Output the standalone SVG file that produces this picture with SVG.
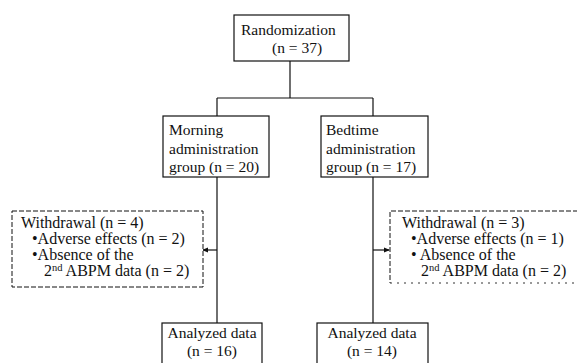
<svg xmlns="http://www.w3.org/2000/svg" width="577" height="363" viewBox="0 0 577 363">
<defs>
<marker id="ah" markerWidth="6" markerHeight="6" refX="5" refY="3" orient="auto" markerUnits="userSpaceOnUse">
<path d="M0,0.5 L6,3 L0,5.5 z" fill="#111"/>
</marker>
<style>
text{font-family:"Liberation Serif","Times New Roman",serif;font-size:15.5px;fill:#111}
.w{font-size:16px}
.box{fill:#fff;stroke:#111;stroke-width:1.2}
.dash{fill:#fff;stroke:#111;stroke-width:1;stroke-dasharray:5,2}
.dot{fill:none;stroke:#333;stroke-width:1;stroke-dasharray:2,5}
.ln{stroke:#111;stroke-width:1.2;fill:none}
.c{text-anchor:middle}
</style>
</defs>
<rect width="577" height="363" fill="#fff"/>
<g id="connectors">
<path class="ln" d="M290,61 V98 M217,98 H373 M217,98 V116 M373,98 V116 M217,177 V323 M373,177 V323"/>
<path class="ln" d="M217,250 H203" marker-end="url(#ah)"/>
<path class="ln" d="M373,250 H389" marker-end="url(#ah)"/>
</g>
<g id="randomization">
<rect class="box" x="234" y="15" width="115" height="46"/>
<text x="241" y="35">Randomization</text>
<text x="272" y="53">(n = 37)</text>
</g>
<g id="morning">
<rect class="box" x="163" y="116" width="106" height="61"/>
<text x="169" y="135">Morning</text>
<text x="169" y="154">administration</text>
<text x="169" y="172">group (n = 20)</text>
</g>
<g id="bedtime">
<rect class="box" x="321" y="116" width="107" height="61"/>
<text x="326" y="135">Bedtime</text>
<text x="326" y="154">administration</text>
<text x="326" y="172">group (n = 17)</text>
</g>
<g id="withdrawal-left" class="w">
<rect class="dash" x="12" y="211" width="191" height="76"/>
<text class="w" x="21" y="228">Withdrawal (n = 4)</text>
<text class="w" x="32" y="244">•Adverse effects (n = 2)</text>
<text class="w" x="32" y="260">•Absence of the</text>
<text class="w" x="44" y="276">2<tspan font-size="10.5" dy="-5.5">nd</tspan><tspan dy="5.5"> ABPM data (n = 2)</tspan></text>
</g>
<g id="withdrawal-right">
<path class="dash" d="M578,211 H390 V283"/>
<path class="dot" d="M390,283 H578"/>
<text class="w" x="402" y="228">Withdrawal (n = 3)</text>
<text class="w" x="411" y="244">•Adverse effects (n = 1)</text>
<text class="w" x="411" y="260">• Absence of the</text>
<text class="w" x="421" y="276">2<tspan font-size="10.5" dy="-5.5">nd</tspan><tspan dy="5.5"> ABPM data (n = 2)</tspan></text>
</g>
<g id="analyzed-morning">
<rect class="box" x="162" y="323" width="100" height="45"/>
<text class="c" x="212" y="338">Analyzed data</text>
<text class="c" x="212" y="356">(n = 16)</text>
</g>
<g id="analyzed-bedtime">
<rect class="box" x="317" y="323" width="111" height="45"/>
<text class="c" x="372" y="338">Analyzed data</text>
<text class="c" x="372" y="356">(n = 14)</text>
</g>
</svg>
